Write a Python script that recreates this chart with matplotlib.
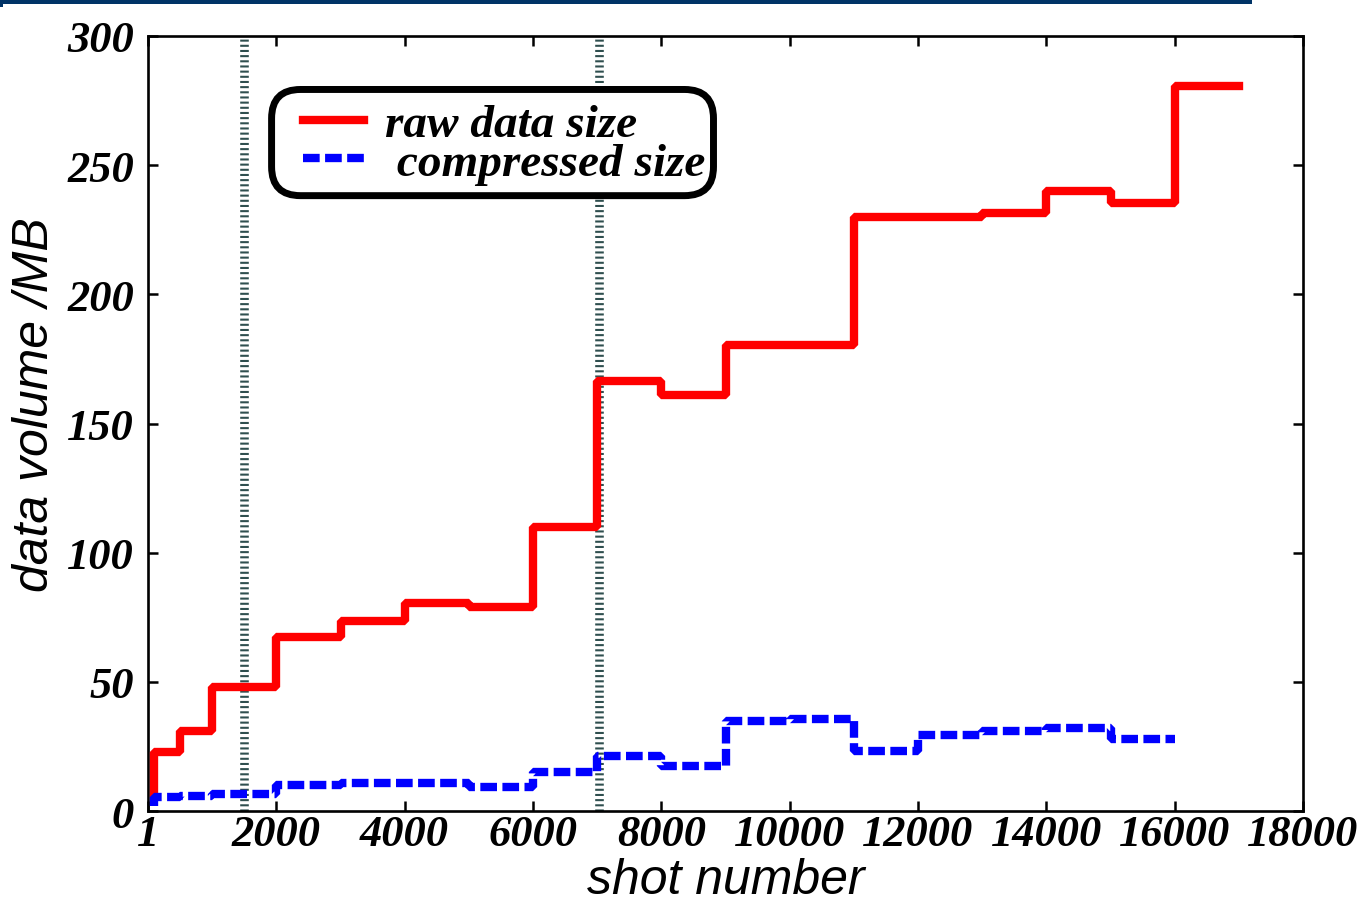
import matplotlib
matplotlib.use("Agg")
from matplotlib import pyplot as plt
from matplotlib.patches import Rectangle, FancyBboxPatch

# step data (shot number -> MB)
raw_shots = [100, 100, 500, 1000, 2000, 3000, 4000, 5000, 6000, 7000, 8000,
             9000, 11000, 13000, 14000, 15000, 16000, 17000]
raw_size = [7, 23, 31, 48, 67.5, 73.5, 80.5, 79, 110, 166.5, 161,
            180.5, 230, 231.5, 240, 235.5, 280.5, 280.5]

comp_shots = [100, 100, 500, 1000, 2000, 3000, 4000, 5000, 6000, 7000, 8000,
              9000, 10000, 11000, 12000, 13000, 14000, 15000, 16000]
comp_size = [2, 5.5, 6, 6.5, 10.2, 11, 11, 9.3, 15, 21.3, 17.5,
             35, 35.5, 23.3, 29.4, 31, 32, 28, 28]

marker_shots = [1500, 7030]

xticks = [1, 2000, 4000, 6000, 8000, 10000, 12000, 14000, 16000, 18000]
yticks = [0, 50, 100, 150, 200, 250, 300]

tickfont = dict(family="Liberation Serif", weight="bold", style="italic", size=32)
labelfont = dict(family="Liberation Sans", style="italic", size=36)

fig = plt.figure(figsize=(13.67, 9.03), dpi=100)
ax = fig.add_axes([148 / 1367, 1 - 812 / 903, 1155 / 1367, 775 / 903])

# header bar from the slide
fig.patches.append(Rectangle((0, 1 - 5 / 903), 1252 / 1367, 5 / 903,
                             transform=fig.transFigure, color="#003366", lw=0))
fig.patches.append(Rectangle((0, 1 - 8 / 903), 3 / 1367, 3 / 903,
                             transform=fig.transFigure, color="#003366", lw=0))

for s in marker_shots:
    ax.axvline(s, color="#2f4f4f", lw=6.2, linestyle=(0, (0.24, 0.36)), zorder=1)

ax.plot(raw_shots, raw_size, drawstyle="steps-post", color="red", lw=6,
        solid_joinstyle="bevel", label="raw data size", zorder=3)
ax.plot(comp_shots, comp_size, drawstyle="steps-post", color="blue", lw=6,
        linestyle=(0, (2.0, 0.65)), dash_joinstyle="bevel",
        label=" compressed size", zorder=3)

ax.set_xlim(0, 18000)
ax.set_ylim(0, 300)
ax.set_xticks(xticks)
ax.set_yticks(yticks)
ax.set_xticklabels([str(t) for t in xticks], fontdict=tickfont)
ax.set_yticklabels([str(t) for t in yticks], fontdict=tickfont)
ax.tick_params(direction="in", length=7, width=1.8, top=True, right=True)
ax.tick_params(axis="x", pad=2)
ax.tick_params(axis="y", pad=10)
for sp in ax.spines.values():
    sp.set_linewidth(1.9)

ax.set_xlabel("shot number", fontdict=labelfont, labelpad=2)
ax.set_ylabel("data volume /MB", fontdict=labelfont)
ax.yaxis.set_label_coords(-0.078, 0.525)

# legend text and handles, frame drawn separately
leg = ax.legend(loc="upper left", bbox_to_anchor=(0.134, 0.913),
                prop=dict(family="Liberation Serif", weight="bold",
                          style="italic", size=34),
                handlelength=1.3, handletextpad=0.45, labelspacing=-0.1,
                borderpad=0, borderaxespad=0, frameon=False)
box = FancyBboxPatch((0.107, 0.794), 0.3826, 0.137,
                     boxstyle="round,pad=0,rounding_size=0.025",
                     mutation_aspect=1155 / 775,
                     transform=ax.transAxes, facecolor="white",
                     edgecolor="black", lw=5, zorder=4)
ax.add_patch(box)
leg.set_zorder(5)

fig.savefig("out.png", dpi=100)
